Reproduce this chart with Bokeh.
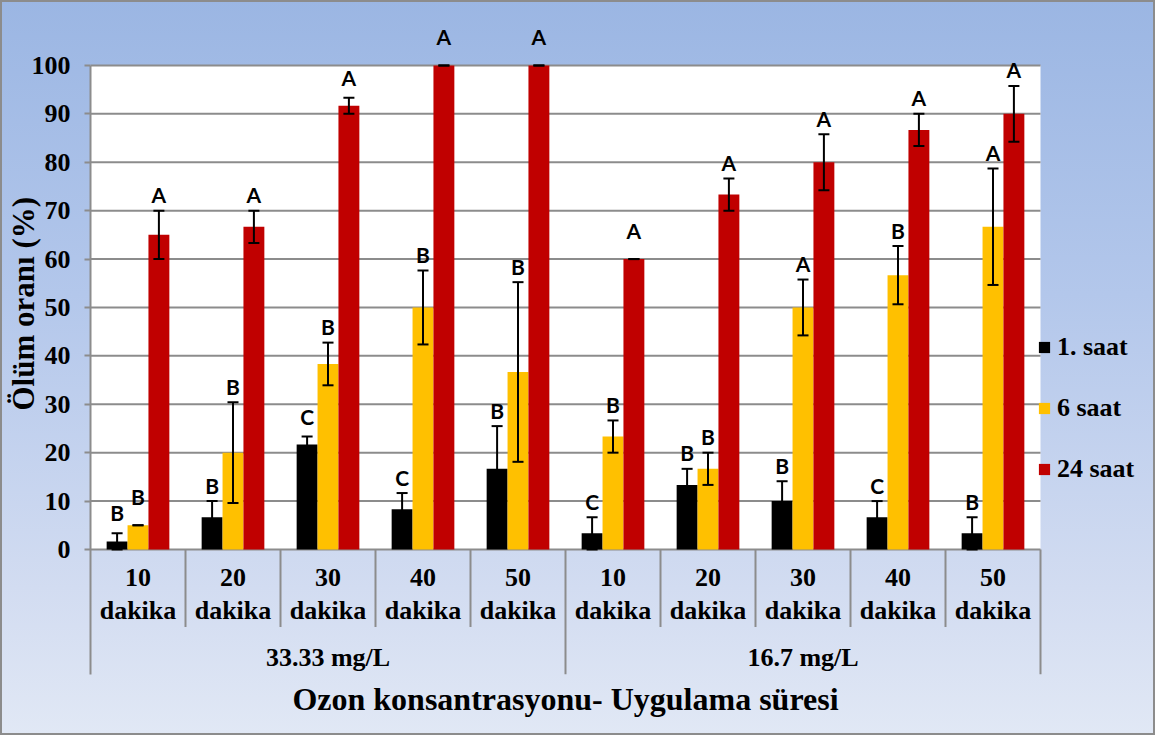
from bokeh.plotting import figure
from bokeh.models import (ColumnDataSource, Range1d, FixedTicker, Title, Legend, LegendItem)
from bokeh.transform import dodge
from bokeh.core.properties import value
from bokeh.embed import file_html
from bokeh.resources import INLINE

# ---------------- data ----------------
concentrations = ["33.33 mg/L", "16.7 mg/L"]
durations = ["10 dakika", "20 dakika", "30 dakika", "40 dakika", "50 dakika"]

saat1 = [1.67, 6.67, 21.67, 8.33, 16.67, 3.33, 13.33, 10.0, 6.67, 3.33]
saat1_err = [1.67, 3.33, 1.67, 3.33, 8.82, 3.33, 3.33, 4.1, 3.33, 3.33]
saat1_lab = ["B", "B", "C", "C", "B", "C", "B", "B", "C", "B"]

saat6 = [5.0, 20.0, 38.33, 50.0, 36.67, 23.33, 16.67, 50.0, 56.67, 66.67]
saat6_err = [0.0, 10.41, 4.41, 7.64, 18.56, 3.33, 3.33, 5.77, 6.01, 12.02]
saat6_lab = ["B", "B", "B", "B", "B", "B", "B", "A", "B", "A"]

saat24 = [65.0, 66.67, 91.67, 100.0, 100.0, 60.0, 73.33, 80.0, 86.67, 90.0]
saat24_err = [5.0, 3.33, 1.67, 0.0, 0.0, 0.0, 3.33, 5.77, 3.33, 5.77]
saat24_lab = ["A"] * 10

series_names = ["1. saat", "6 saat", "24 saat"]
series_colors = ["#000000", "#FFC000", "#C00000"]
y_ticks = [0, 10, 20, 30, 40, 50, 60, 70, 80, 90, 100]

x_title = "Ozon konsantrasyonu- Uygulama süresi"
y_title = "Ölüm oranı (%)"

# ---------------- build ----------------
factors = [(c, d) for c in concentrations for d in durations]
n_cat = len(factors)
n_sub = len(durations)
xc = [i + 0.5 for i in range(n_cat)]          # category centres on the x scale

data = dict(x=xc)
for key, vals, errs, labs in [("s1", saat1, saat1_err, saat1_lab),
                              ("s6", saat6, saat6_err, saat6_lab),
                              ("s24", saat24, saat24_err, saat24_lab)]:
    up = [v + e for v, e in zip(vals, errs)]
    data[key] = vals
    data[key + "_up"] = up
    data[key + "_lo"] = [max(v - e, 0) for v, e in zip(vals, errs)]
    data[key + "_lab"] = labs
    # letter sits just above the error bar, or a little above the bar top
    data[key + "_ly"] = [max(u + 3.3, v + 5.9) for u, v in zip(up, vals)]
src = ColumnDataSource(data)

SERIF = "Liberation Serif"
GRAY = "#8c8c8c"
W, H = 1155, 735
LEFT = 90

p = figure(x_range=Range1d(0, (W - LEFT) / 95.0),
           y_range=Range1d(-37.4, 108.05),
           width=W, height=H, output_backend="svg", toolbar_location=None,
           x_axis_location=None,
           min_border_left=LEFT, min_border_right=0, min_border_top=26, min_border_bottom=5)

p.background_fill_alpha = 0
p.border_fill_alpha = 0
p.outline_line_color = None
p.styles = {
    "background": "linear-gradient(180deg, #9bb6e3 0%, #b3c7eb 40%, #d2dcf1 80%, #e1e8f5 100%)",
    "box-shadow": "inset 0 0 0 2px #8c8c8c",
}
p.grid.visible = False

# white plotting area and horizontal grid lines (0..100 over the categories)
p.quad(left=0, right=n_cat, bottom=min(y_ticks), top=max(y_ticks),
       fill_color="white", line_color=None)
p.segment(x0=[0] * len(y_ticks), x1=[n_cat] * len(y_ticks), y0=y_ticks, y1=y_ticks,
          line_color=GRAY, line_width=2)

ticker = FixedTicker(ticks=y_ticks)
p.yaxis.ticker = ticker
p.yaxis.bounds = (-25.8, max(y_ticks))
p.yaxis.major_label_text_font = SERIF
p.yaxis.major_label_text_font_style = "bold"
p.yaxis.major_label_text_font_size = "26px"
p.yaxis.major_label_text_color = "black"
p.yaxis.axis_line_color = GRAY
p.yaxis.axis_line_width = 2
p.yaxis.major_tick_line_color = GRAY
p.yaxis.major_tick_line_width = 2
p.yaxis.major_tick_out = 6
p.yaxis.major_tick_in = 0
p.yaxis.minor_tick_line_color = None
p.yaxis.major_label_standoff = 14

# bars, error bars, letters
offsets = [-0.22, 0.0, 0.22]
cap = 0.058
renderers = []
for key, off, col in zip(["s1", "s6", "s24"], offsets, series_colors):
    r = p.vbar(x=dodge("x", off), top=key, width=0.22, source=src,
               fill_color=col, line_color=None)
    renderers.append(r)
    p.segment(x0=dodge("x", off), x1=dodge("x", off),
              y0=key + "_lo", y1=key + "_up", source=src, line_color="black", line_width=2)
    for end in ("_lo", "_up"):
        p.segment(x0=dodge("x", off - cap), x1=dodge("x", off + cap),
                  y0=key + end, y1=key + end, source=src, line_color="black", line_width=2)
    p.text(x=dodge("x", off), y=key + "_ly", text=key + "_lab", source=src,
           text_font=value("Lato"), text_font_style="bold", text_font_size="21px",
           text_align="center", text_baseline="middle", text_color="black")

# category table below the plot
tsrc = ColumnDataSource(dict(x=xc,
                             num=[d.split()[0] for c, d in factors],
                             word=[d.split()[1] for c, d in factors]))
p.text(x="x", y=-5.8, text="num", source=tsrc, text_font=value(SERIF), text_font_style="bold",
       text_font_size="26px", text_align="center", text_baseline="middle", text_color="black")
p.text(x="x", y=-12.7, text="word", source=tsrc, text_font=value(SERIF), text_font_style="bold",
       text_font_size="26px", text_align="center", text_baseline="middle", text_color="black")

gx = [sum(xc[g * n_sub:(g + 1) * n_sub]) / n_sub for g in range(len(concentrations))]
gsrc = ColumnDataSource(dict(x=gx, t=concentrations))
p.text(x="x", y=-22.4, text="t", source=gsrc, text_font=value(SERIF), text_font_style="bold",
       text_font_size="26px", text_align="center", text_baseline="middle", text_color="black")

sub_b = [i for i in range(1, n_cat) if i % n_sub != 0]
grp_b = [i for i in range(n_sub, n_cat + 1, n_sub)]
p.segment(x0=sub_b, x1=sub_b, y0=[0] * len(sub_b), y1=[-16.0] * len(sub_b),
          line_color=GRAY, line_width=2)
p.segment(x0=grp_b, x1=grp_b, y0=[0] * len(grp_b), y1=[-25.8] * len(grp_b),
          line_color=GRAY, line_width=2)

# x title centred under the category table
p.text(x=[n_cat / 2], y=[-30.9], text=[x_title],
       text_font=value(SERIF), text_font_style="bold", text_font_size="32px",
       text_align="center", text_baseline="middle", text_color="black")

# y title (left side panel)
p.add_layout(Title(text=y_title, align="left", offset=320, standoff=-24,
                   text_font=SERIF, text_font_style="bold", text_font_size="31px",
                   text_color="black"), "left")

# legend (inside the frame, right of the categories)
legend = Legend(items=[LegendItem(label=n, renderers=[r]) for n, r in zip(series_names, renderers)],
                location=(947, 246), orientation="vertical",
                glyph_width=14, glyph_height=14, label_standoff=6, spacing=31, label_height=30,
                padding=0, margin=0, border_line_color=None, background_fill_alpha=0,
                label_text_font=SERIF, label_text_font_style="bold", label_text_font_size="26px",
                label_text_color="black")
p.add_layout(legend)

open("out.html", "w").write(file_html(p, INLINE))
